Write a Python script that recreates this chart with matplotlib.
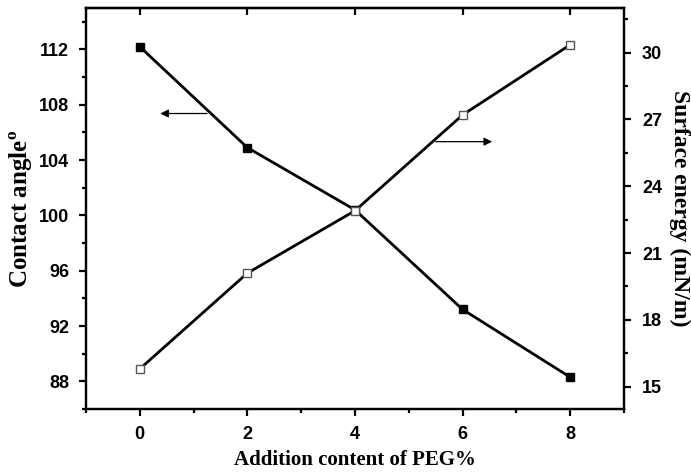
import matplotlib
matplotlib.use("Agg")
import matplotlib.pyplot as plt
from matplotlib.ticker import MultipleLocator

peg = [0, 2, 4, 6, 8]
contact_angle = [112.2, 104.9, 100.4, 93.2, 88.3]
surface_energy = [15.8, 20.1, 22.9, 27.2, 30.35]

plt.rcParams['mathtext.fontset'] = 'custom'
plt.rcParams['mathtext.bf'] = 'Liberation Serif:bold'
plt.rcParams['mathtext.rm'] = 'Liberation Serif:bold'

fig = plt.figure(figsize=(6.91, 4.72), dpi=100)
ax = fig.add_axes([86/691, 63/472, 538/691, 401/472])
ax2 = ax.twinx()

ax.plot(peg, contact_angle, color='black', lw=2, marker='s', ms=6,
        mfc='black', mec='black', zorder=3)
ax2.plot(peg, surface_energy, color='black', lw=2, marker='s', ms=6,
         mfc='white', mec='#555555', mew=1, zorder=3)

ax.set_xlim(-1, 9)
ax.set_ylim(86, 115)
ax2.set_ylim(14, 32)

ax.xaxis.set_major_locator(MultipleLocator(2))
ax.xaxis.set_minor_locator(MultipleLocator(1))
ax.yaxis.set_major_locator(MultipleLocator(4))
ax.yaxis.set_minor_locator(MultipleLocator(2))
ax2.yaxis.set_major_locator(MultipleLocator(3))
ax2.yaxis.set_minor_locator(MultipleLocator(1.5))

for a in (ax, ax2):
    for s in a.spines.values():
        s.set_linewidth(1.6)
ax.tick_params(axis='x', which='major', direction='out', length=5, width=1.6, bottom=True, top=False, pad=7)
ax.tick_params(axis='x', which='minor', direction='out', length=3, width=1.6, bottom=True, top=False)
ax.tick_params(axis='y', which='major', direction='out', length=5, width=1.6, pad=7)
ax.tick_params(axis='y', which='minor', direction='out', length=3, width=1.6)
ax2.tick_params(axis='y', which='major', direction='out', length=5, width=1.6, pad=8)
ax2.tick_params(axis='y', which='minor', direction='out', length=3, width=1.6)
# top ticks inward
sec = ax.secondary_xaxis('top')
sec.xaxis.set_major_locator(MultipleLocator(2))
sec.tick_params(axis='x', direction='in', length=5, width=1.6, labeltop=False)
sec.spines['top'].set_linewidth(1.6)

for lab in ax.get_xticklabels() + ax.get_yticklabels() + ax2.get_yticklabels():
    lab.set_fontfamily('Liberation Sans')
    lab.set_fontweight('bold')
    lab.set_fontsize(13)

ax.set_xlabel('Addition content of PEG%', family='Liberation Serif', weight='bold', size=15, labelpad=5)
ax.set_ylabel(r'Contact angle$^{\mathrm{o}}$', family='Liberation Serif', weight='bold', size=18, labelpad=3)
ax2.set_ylabel('Surface energy (mN/m)', family='Liberation Serif', weight='bold', size=17, rotation=270, labelpad=20)

ax.annotate('', xy=(0.33, 107.37), xytext=(1.3, 107.37),
            arrowprops=dict(arrowstyle='-|>', color='black', lw=0.9, mutation_scale=12))
ax2.annotate('', xy=(6.6, 26.0), xytext=(5.45, 26.0),
             arrowprops=dict(arrowstyle='-|>', color='black', lw=0.9, mutation_scale=12))

fig.savefig('out.png', dpi=100)
